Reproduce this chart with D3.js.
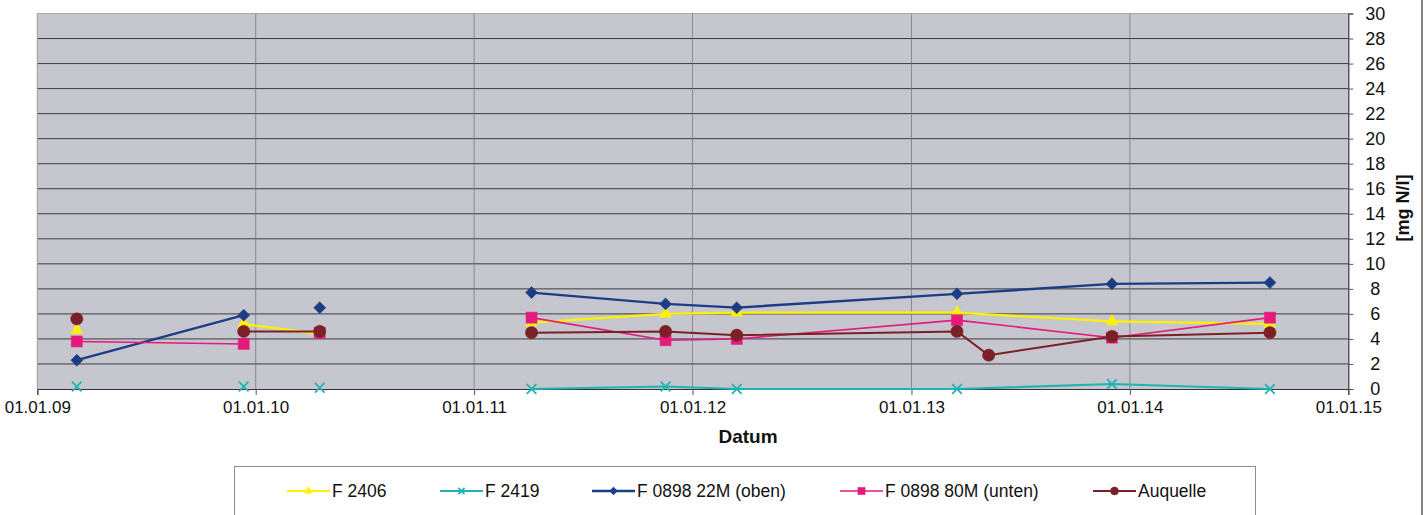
<!DOCTYPE html>
<html>
<head>
<meta charset="utf-8">
<script src="https://cdn.jsdelivr.net/npm/d3@7"></script>
<style>
  html, body { margin: 0; padding: 0; background: #ffffff; }
  svg { display: block; font-family: "Liberation Sans", Arial, Helvetica, sans-serif; }
</style>
</head>
<body>
<svg id="chart" width="1427" height="515"></svg>
<script>
// Sampling dates (dd.mm.yy) shared by all measuring points
const sampleDates = ["08.03.09", "12.12.09", "18.04.10", "07.04.11", "17.11.11",
                     "15.03.12", "18.03.13", "10.05.13", "02.12.13", "23.08.14"];

// Nitrate-nitrogen [mg N/l]; null = no sample on that date
const f2406      = [4.7, 5.2, 4.4, 5.3, 6.0, 6.1, 6.1, null, 5.4, 5.2];
const f2419      = [0.2, 0.2, 0.1, 0.0, 0.2, 0.0, 0.0, null, 0.4, 0.0];
const f0898oben  = [2.3, 5.9, 6.5, 7.7, 6.8, 6.5, 7.6, null, 8.4, 8.5];
const f0898unten = [3.8, 3.6, 4.5, 5.7, 3.9, 4.0, 5.5, null, 4.1, 5.7];
const auquelle   = [5.6, 4.6, 4.6, 4.5, 4.6, 4.3, 4.6, 2.7, 4.2, 4.5];

// Sample index at which each series' line is interrupted (new segment starts)
const breaksF2406      = [1, 3];
const breaksF2419      = [1, 2, 3];
const breaksF0898oben  = [2, 3];
const breaksF0898unten = [2, 3];
const breaksAuquelle   = [1, 3];

const seriesNames = ["F 2406", "F 2419", "F 0898 22M (oben)", "F 0898 80M (unten)", "Auquelle"];

// Axis settings
const yTicks = d3.range(0, 31, 2);
const xDomain = ["01.01.09", "01.01.15"];
const xAxisTitle = "Datum";
const yAxisTitle = "[mg N/l]";

// ---------------------------------------------------------------------------
const parse = d3.utcParse("%d.%m.%y");
const fmt = d3.utcFormat("%d.%m.%y");

const svg = d3.select("#chart");

const plot = { left: 37.3, right: 1348.3, top: 13.5, bottom: 389 };

const x = d3.scaleUtc().domain(xDomain.map(parse)).range([plot.left, plot.right]);
const y = d3.scaleLinear().domain([0, 30]).range([plot.bottom, plot.top]);

const styles = [
  { color: "#fff200", width: 2.2, symbol: "triangle" },
  { color: "#1fb3b3", width: 2.2, symbol: "x" },
  { color: "#1c3d86", width: 2.4, symbol: "diamond" },
  { color: "#e6197c", width: 1.6, symbol: "square" },
  { color: "#7a2026", width: 2.0, symbol: "circle" }
];

const valueSets = [f2406, f2419, f0898oben, f0898unten, auquelle];
const breakSets = [breaksF2406, breaksF2419, breaksF0898oben, breaksF0898unten, breaksAuquelle];

const series = seriesNames.map((name, i) => {
  const pts = [];
  valueSets[i].forEach((v, j) => {
    if (v == null) return;
    const seg = breakSets[i].filter(b => b <= j).length;
    pts.push({ date: parse(sampleDates[j]), value: v, seg });
  });
  return { name, points: pts, ...styles[i] };
});

// Plot area background
svg.append("rect")
  .attr("x", plot.left).attr("y", plot.top)
  .attr("width", plot.right - plot.left).attr("height", plot.bottom - plot.top)
  .attr("fill", "#c6c6ce");

// Horizontal gridlines
svg.append("g")
  .selectAll("line")
  .data(yTicks.filter(t => t > 0 && t < 30))
  .join("line")
  .attr("x1", plot.left).attr("x2", plot.right)
  .attr("y1", d => y(d)).attr("y2", d => y(d))
  .attr("stroke", "#3c3c40").attr("stroke-width", 1);

// Vertical gridlines at each new year
const years = x.ticks(d3.utcYear.every(1));
svg.append("g")
  .selectAll("line")
  .data(years.slice(1, -1))
  .join("line")
  .attr("x1", d => x(d)).attr("x2", d => x(d))
  .attr("y1", plot.top).attr("y2", plot.bottom)
  .attr("stroke", "#707076").attr("stroke-width", 0.7);

// Plot frame (top and left edges light)
svg.append("line")
  .attr("x1", plot.left).attr("x2", plot.right)
  .attr("y1", plot.top).attr("y2", plot.top)
  .attr("stroke", "#a8a8ae").attr("stroke-width", 1);
svg.append("line")
  .attr("x1", plot.left).attr("x2", plot.left)
  .attr("y1", plot.top).attr("y2", plot.bottom)
  .attr("stroke", "#9a9aa0").attr("stroke-width", 1);

// Bottom axis (dates)
const xAxis = svg.append("g")
  .attr("transform", `translate(0,${plot.bottom})`)
  .call(d3.axisBottom(x).ticks(d3.utcYear.every(1)).tickFormat(fmt).tickSize(6).tickPadding(6));
xAxis.select(".domain").attr("stroke", "#333").attr("stroke-width", 1.2);
xAxis.selectAll(".tick line").attr("stroke", "#555");
xAxis.selectAll(".tick text")
  .attr("font-size", 17).attr("fill", "#111")
  .attr("font-family", "'Liberation Sans', Arial, sans-serif");

// Right value axis
const yAxis = svg.append("g")
  .attr("transform", `translate(${plot.right},0)`)
  .call(d3.axisRight(y).tickValues(yTicks).tickSize(5).tickPadding(3));
yAxis.select(".domain").attr("stroke", "#333").attr("stroke-width", 1.2);
yAxis.selectAll(".tick line").attr("stroke", "#555");
yAxis.selectAll(".tick text")
  .attr("x", 27).attr("text-anchor", "middle")
  .attr("font-size", 18).attr("fill", "#111")
  .attr("font-family", "'Liberation Sans', Arial, sans-serif");

// Axis titles
svg.append("text")
  .attr("x", 748).attr("y", 443)
  .attr("text-anchor", "middle")
  .attr("font-size", 19).attr("font-weight", "bold").attr("fill", "#111")
  .text(xAxisTitle);

svg.append("text")
  .attr("transform", "translate(1403,208) rotate(-90)")
  .attr("text-anchor", "middle").attr("dominant-baseline", "central")
  .attr("font-size", 18).attr("font-weight", "bold").attr("fill", "#111")
  .text(yAxisTitle);

// Marker shapes
function symbolPath(kind, scale) {
  const s = scale || 1;
  switch (kind) {
    case "triangle": return d3.symbol(d3.symbolTriangle, 62 * s * s)();
    case "x":        return d3.symbol(d3.symbolX, 62 * s * s)();
    case "diamond":  return d3.symbol(d3.symbolSquare, 72 * s * s)();
    case "square":   return d3.symbol(d3.symbolSquare, 122 * s * s)();
    case "circle":   return d3.symbol(d3.symbolCircle, 118 * s * s)();
  }
}
function drawMarker(sel, s, scale) {
  const isStroke = s.symbol === "x";
  sel.attr("d", symbolPath(s.symbol, scale))
    .attr("fill", isStroke ? "none" : s.color)
    .attr("stroke", s.color)
    .attr("stroke-width", isStroke ? 1.8 : 0.5);
}

const line = d3.line().x(d => x(d.date)).y(d => y(d.value));

// Series: lines per segment, then markers
series.forEach(s => {
  const g = svg.append("g");
  const segs = d3.groups(s.points, d => d.seg).map(d => d[1]).filter(p => p.length > 1);
  g.selectAll("path.line")
    .data(segs)
    .join("path")
    .attr("class", "line")
    .attr("d", line)
    .attr("fill", "none")
    .attr("stroke", s.color)
    .attr("stroke-width", s.width)
    .attr("stroke-linejoin", "round");
  g.selectAll("path.mark")
    .data(s.points)
    .join("path")
    .attr("class", "mark")
    .attr("transform", d => `translate(${x(d.date)},${y(d.value)})` + (s.symbol === "diamond" ? " rotate(45)" : ""))
    .call(sel => drawMarker(sel, s, 1));
});

// Legend
const legendX = [287, 440, 592, 840, 1093];
const legendY = 491;
svg.append("rect")
  .attr("x", 234.5).attr("y", 466.5).attr("width", 1021).attr("height", 70)
  .attr("fill", "#ffffff").attr("stroke", "#8c8c8c").attr("stroke-width", 1);

const items = svg.append("g").selectAll("g")
  .data(series)
  .join("g")
  .attr("transform", (d, i) => `translate(${legendX[i]},${legendY})`);
items.append("line")
  .attr("x1", 0).attr("x2", 43).attr("y1", 0).attr("y2", 0)
  .attr("stroke", d => d.color).attr("stroke-width", d => d.width);
items.append("path")
  .attr("transform", d => "translate(21.5,0)" + (d.symbol === "diamond" ? " rotate(45)" : ""))
  .each(function (d) { drawMarker(d3.select(this), d, 0.65); });
items.append("text")
  .attr("x", 45).attr("y", 6)
  .attr("font-size", 17.5).attr("fill", "#111")
  .text(d => d.name);

// Page frame line on the right
svg.append("line")
  .attr("x1", 1422).attr("x2", 1422).attr("y1", 0).attr("y2", 515)
  .attr("stroke", "#333").attr("stroke-width", 1.2);
</script>
</body>
</html>
